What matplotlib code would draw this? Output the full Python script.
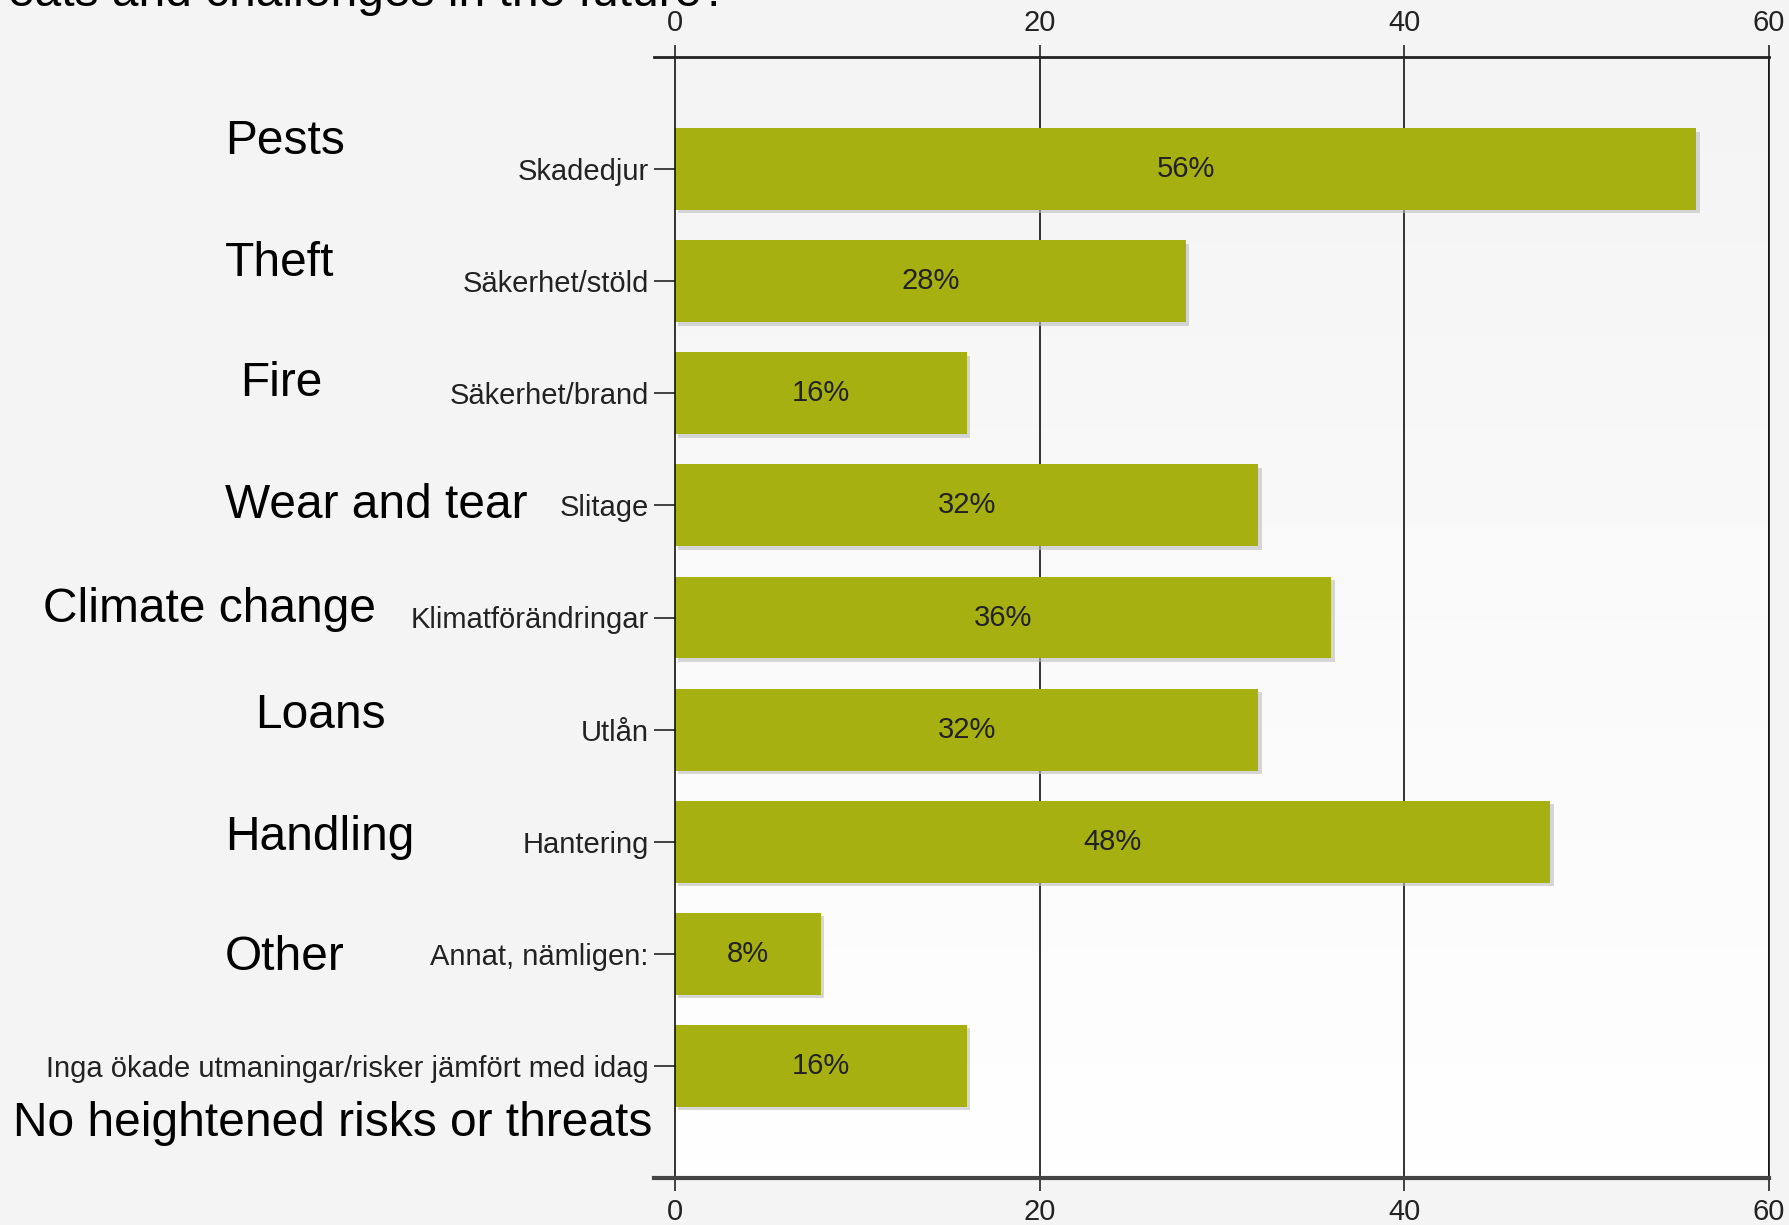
import matplotlib
matplotlib.use("Agg")
import matplotlib.pyplot as plt
import numpy as np
from matplotlib import patheffects as pe
from matplotlib.colors import LinearSegmentedColormap

plt.rcParams['font.family'] = ['Liberation Sans', 'DejaVu Sans']

# ---- data ----
categories = ["Skadedjur", "Säkerhet/stöld", "Säkerhet/brand", "Slitage",
              "Klimatförändringar", "Utlån", "Hantering", "Annat, nämligen:",
              "Inga ökade utmaningar/risker jämfört med idag"]
values = [56, 28, 16, 32, 36, 32, 48, 8, 16]
english_labels = ["Pests", "Theft", "Fire", "Wear and tear", "Climate change",
                  "Loans", "Handling", "Other", "No heightened risks or threats"]
x_ticks = [0, 20, 40, 60]
title_text = "threats and challenges in the future?"

# ---- layout (pixels in a 1790x1225 figure) ----
W, H = 1790, 1225
english_pos = [(225, 142), (225, 263), (240, 384), (225, 505), (43, 610),
               (255, 715), (225, 837), (225, 957), (13, 1123)]

bar_color = "#a7b011"
text_color = "#222222"
small_fs = 21
big_fs = 34.5

fig = plt.figure(figsize=(W / 100, H / 100), dpi=100, facecolor="#f4f4f4")
ax_left, ax_right, ax_top, ax_bot = 675, 1769, 57, 1178
ax = fig.add_axes([ax_left / W, 1 - ax_bot / H, (ax_right - ax_left) / W,
                   (ax_bot - ax_top) / H])

# gradient background of plot area
cmap = LinearSegmentedColormap.from_list("bg", ["#ffffff", "#fafafa", "#f4f4f4"])
grad = np.linspace(0, 1, 256).reshape(-1, 1)
ax.imshow(grad, extent=[0, 1, 0, 1], transform=ax.transAxes, aspect="auto",
          cmap=cmap, origin="lower", zorder=0)

y = np.arange(len(categories))
ax.set_xlim(0, 60)
ax.set_ylim(len(categories), -1)

# vertical gridlines
for xv in x_ticks[1:]:
    ax.axvline(xv, color="#111111", lw=1.2, zorder=1)

bars = ax.barh(y, values, height=0.73, color=bar_color, edgecolor="none", zorder=3)
for b in bars:
    b.set_path_effects([pe.SimplePatchShadow(offset=(2.5, -2.5), shadow_rgbFace="#bdbdbd",
                                             alpha=0.6), pe.Normal()])

for yi, v in zip(y, values):
    ax.text(v / 2, yi, f"{v}%", ha="center", va="center", fontsize=small_fs,
            color=text_color, zorder=4)

ax.set_yticks(y)
ax.set_yticklabels(categories)
ax.tick_params(axis="y", length=15, width=1.2, color="#222222", pad=4,
               labelsize=small_fs, labelcolor=text_color)

ax.set_xticks(x_ticks)
ax.tick_params(axis="x", top=True, labeltop=True, bottom=True, labelbottom=True,
               length=9, width=1.2, color="#222222", labelsize=small_fs,
               labelcolor=text_color, pad=5.5)

ext = 1.15
ax.spines["top"].set_bounds(-ext, 60)
ax.spines["top"].set_linewidth(2)
ax.spines["top"].set_color("#222222")
ax.spines["bottom"].set_bounds(-ext, 60)
ax.spines["bottom"].set_linewidth(3)
ax.spines["bottom"].set_color("#444444")
ax.spines["left"].set_color("#111111")
ax.spines["left"].set_linewidth(1.2)
ax.spines["right"].set_color("#111111")
ax.spines["right"].set_linewidth(1.2)
for s in ax.spines.values():
    s.set_zorder(5)

# English annotations
for lab, (px, py) in zip(english_labels, english_pos):
    fig.text(px / W, 1 - py / H, lab, ha="left", va="center", fontsize=big_fs,
             color="black")

fig.text(728 / W, 1 - 6 / H, title_text, ha="right", va="baseline",
         fontsize=big_fs, color="black")

fig.savefig("out.png", dpi=100, facecolor=fig.get_facecolor())
